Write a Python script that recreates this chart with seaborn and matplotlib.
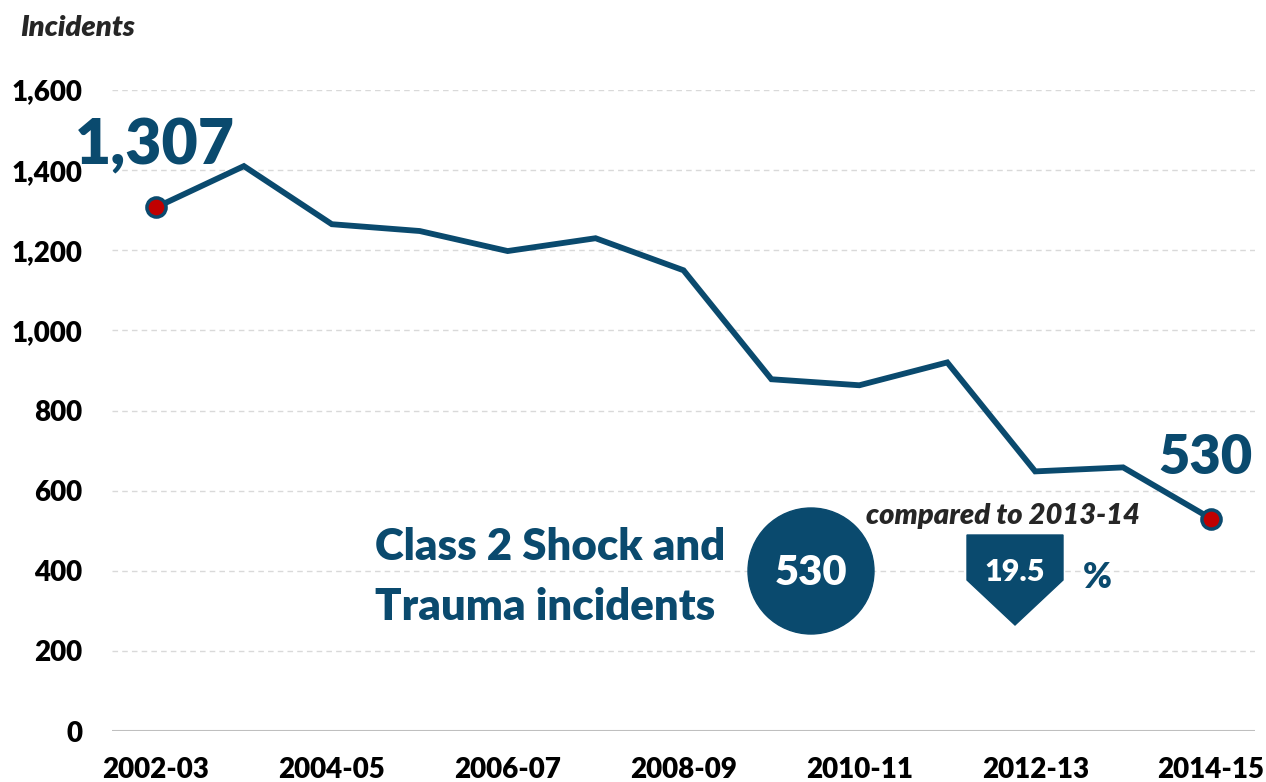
import matplotlib
matplotlib.use("Agg")
import matplotlib.pyplot as plt
import numpy as np
import pandas as pd
import seaborn as sns
from matplotlib.patches import Circle, Polygon

years = ["2002-03", "2003-04", "2004-05", "2005-06", "2006-07", "2007-08", "2008-09",
         "2009-10", "2010-11", "2011-12", "2012-13", "2013-14", "2014-15"]
incidents = [1307, 1410, 1265, 1248, 1198, 1230, 1150, 878, 863, 920, 648, 658, 530]
y_ticks = [0, 200, 400, 600, 800, 1000, 1200, 1400, 1600]
change_pct = 19.5

BLUE = "#0A4A6E"
RED = "#C00000"

sns.set_theme(style="white")
plt.rcParams["font.family"] = ["Lato", "DejaVu Sans"]

df = pd.DataFrame({"year": years, "incidents": incidents})
df["pos"] = np.arange(len(df))

W, H = 1266, 782
fig = plt.figure(figsize=(W / 100, H / 100), dpi=100)
ax = fig.add_axes([112 / W, 1 - 731 / H, (1255 - 112) / W, (731 - 90) / H])

sns.lineplot(data=df, x="pos", y="incidents", color=BLUE, linewidth=4.2, ax=ax,
             solid_joinstyle="miter")
ends = df.iloc[[0, -1]]
ax.scatter(ends["pos"], ends["incidents"], s=190, color=RED, edgecolor=BLUE,
           linewidth=2.5, zorder=5)

ax.set_xlim(-0.5, len(df) - 0.5)
ax.set_ylim(0, 1600)
ax.set_yticks(y_ticks)
ax.set_yticklabels([f"{v:,}" for v in y_ticks], fontsize=20, fontweight="heavy")
ax.set_xticks(df["pos"][::2])
ax.set_xticklabels(df["year"][::2], fontsize=20, fontweight="heavy")
ax.tick_params(axis="both", length=0, colors="black")
ax.tick_params(axis="y", pad=21.5)
ax.tick_params(axis="x", pad=19)
ax.set_xlabel("")
ax.set_ylabel("")
for v in y_ticks[1:]:
    ax.axhline(v, color="#D9D9D9", linewidth=1, linestyle=(0, (4, 3)), zorder=0)
ax.axhline(0, color="#BFBFBF", linewidth=1.5, zorder=0)
for s in ax.spines.values():
    s.set_visible(False)

# big value labels at first and last points
ax.annotate(f"{incidents[0]:,}", (0, incidents[0]), xytext=(-1, 24),
            textcoords="offset points", ha="center", va="bottom",
            fontsize=45, fontweight="heavy", color=BLUE)
ax.annotate(f"{incidents[-1]:,}", (len(df) - 1, incidents[-1]), xytext=(-4, 26),
            textcoords="offset points", ha="center", va="bottom",
            fontsize=39, fontweight="heavy", color=BLUE)

# overlay in pixel coordinates for the callout
ov = fig.add_axes([0, 0, 1, 1], facecolor="none")
ov.set_xlim(0, W)
ov.set_ylim(H, 0)
ov.axis("off")

ov.text(20, 28, "Incidents", fontsize=21, fontweight="heavy", style="italic",
        ha="left", va="center")
ov.text(375, 547, "Class 2 Shock and", fontsize=31.5, fontweight="heavy", color=BLUE,
        ha="left", va="center")
ov.text(375, 607, "Trauma incidents", fontsize=31.5, fontweight="heavy", color=BLUE,
        ha="left", va="center")
ov.add_patch(Circle((811, 571), 63, color=BLUE))
ov.text(811, 573, f"{incidents[-1]}", fontsize=30, fontweight="heavy", color="white",
        ha="center", va="center")
ov.add_patch(Polygon([(967, 535), (1063, 535), (1063, 580), (1015, 625), (967, 580)],
                     closed=True, color=BLUE))
ov.text(1015, 572, f"{change_pct}", fontsize=22, fontweight="heavy", color="white",
        ha="center", va="center")
ov.text(1097, 578, "%", fontsize=25, fontweight="heavy", color=BLUE,
        ha="center", va="center")
ov.text(1003, 516, "compared to 2013-14", fontsize=21, fontweight="heavy",
        style="italic", ha="center", va="center")

fig.savefig("out.png", dpi=100)
